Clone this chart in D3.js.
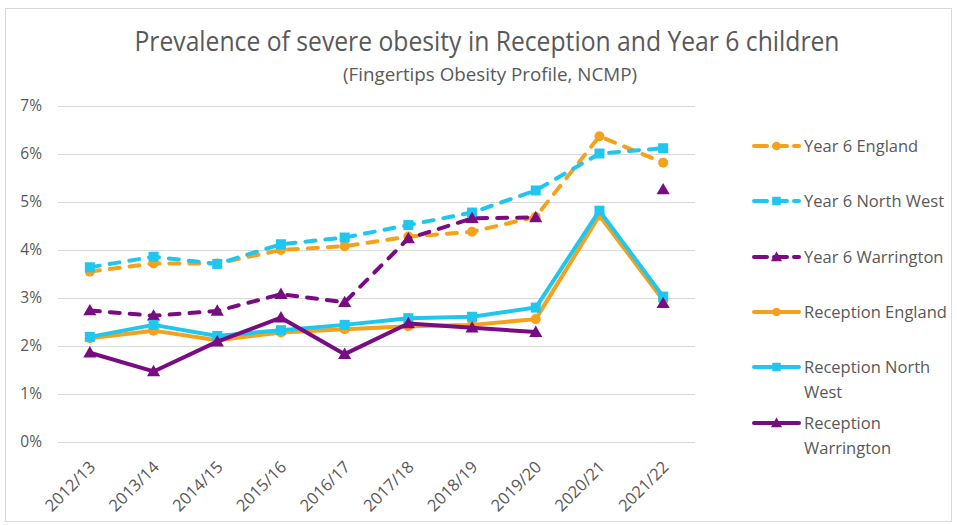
<!DOCTYPE html>
<html><head><meta charset="utf-8">
<script src="https://cdn.jsdelivr.net/npm/d3@7"></script>
<style>body{margin:0;background:#fff;} text{font-family:"Open Sans","Noto Sans",sans-serif;}</style>
</head><body><svg id="c" width="957" height="525"></svg>
<script>
const years = ["2012/13","2013/14","2014/15","2015/16","2016/17","2017/18","2018/19","2019/20","2020/21","2021/22"];
const yTicks = [0,1,2,3,4,5,6,7];
const y6England   = [3.55,3.72,3.72,4.00,4.08,4.28,4.38,4.69,6.37,5.82];
const y6NorthWest = [3.64,3.86,3.71,4.12,4.26,4.52,4.78,5.24,6.01,6.12];
const y6Warrington= [2.74,2.63,2.73,3.08,2.91,4.24,4.66,4.68,null,5.26];
const recEngland  = [2.16,2.32,2.12,2.28,2.35,2.41,2.44,2.56,4.72,2.95];
const recNorthWest= [2.19,2.44,2.21,2.33,2.44,2.58,2.61,2.80,4.82,3.03];
const recWarrington=[1.86,1.47,2.09,2.59,1.83,2.47,2.38,2.29,null,2.89];
const seriesNames = ["Year 6 England","Year 6 North West","Year 6 Warrington","Reception England","Reception North West","Reception Warrington"];

const ORANGE="#F5A11C", CYAN="#1FC7EF", PURPLE="#7A0C83";
const series = [
  {name:seriesNames[0], vals:y6England, color:ORANGE, dash:true, marker:"circle"},
  {name:seriesNames[1], vals:y6NorthWest, color:CYAN, dash:true, marker:"square"},
  {name:seriesNames[2], vals:y6Warrington, color:PURPLE, dash:true, marker:"triangle"},
  {name:seriesNames[3], vals:recEngland, color:ORANGE, dash:false, marker:"circle"},
  {name:seriesNames[4], vals:recNorthWest, color:CYAN, dash:false, marker:"square"},
  {name:seriesNames[5], vals:recWarrington, color:PURPLE, dash:false, marker:"triangle"}
];

const svg = d3.select("#c");
svg.append("rect").attr("x",5.5).attr("y",8.5).attr("width",946).attr("height",513)
  .attr("fill","#fff").attr("stroke","#d9d9d9");

const x = d3.scalePoint().domain(years).range([58,695]).padding(0.5);
const y = d3.scaleLinear().domain([0,7]).range([442,106]);

// title
svg.append("text").attr("x",487).attr("y",51).attr("text-anchor","middle")
  .attr("font-size",27).attr("fill","#595959").attr("textLength",705).attr("lengthAdjust","spacingAndGlyphs")
  .text("Prevalence of severe obesity in Reception and Year 6 children");
svg.append("text").attr("x",490).attr("y",81).attr("text-anchor","middle")
  .attr("font-size",18).attr("fill","#595959").attr("textLength",294).attr("lengthAdjust","spacingAndGlyphs")
  .text("(Fingertips Obesity Profile, NCMP)");

// grid
const yAxis = d3.axisLeft(y).tickValues(yTicks).tickSize(-(695-58)).tickFormat(d=>d+"%");
const gy = svg.append("g").attr("transform","translate(58,0)").call(yAxis);
gy.select(".domain").remove();
gy.selectAll(".tick line").attr("stroke","#d9d9d9").attr("stroke-width",1);
gy.selectAll(".tick text").attr("x",-16).attr("font-size",15.5).attr("fill","#595959");

// x axis labels
const xAxis = d3.axisBottom(x).tickSize(0);
const gx = svg.append("g").attr("transform","translate(0,442)").call(xAxis);
gx.select(".domain").remove();
gx.selectAll(".tick text").attr("font-size",16.5).attr("fill","#595959")
  .attr("text-anchor","end").attr("y",0).attr("dy","0.35em")
  .attr("transform","translate(2,22) rotate(-45)");

function drawMarker(g, type, cx, cy, color, scale){
  scale = scale||1;
  if(type==="circle") g.append("circle").attr("cx",cx).attr("cy",cy).attr("r",5*scale).attr("fill",color);
  else if(type==="square") g.append("rect").attr("x",cx-5*scale).attr("y",cy-5*scale).attr("width",10*scale).attr("height",10*scale).attr("fill",color);
  else g.append("path").attr("d",d3.symbol().type(d3.symbolTriangle).size(75*scale*scale)()).attr("transform",`translate(${cx},${cy+1})`).attr("fill",color);
}

const line = d3.line().defined(d=>d!=null).x((d,i)=>x(years[i])).y(d=>y(d));
series.forEach(s=>{
  const g = svg.append("g");
  g.append("path").attr("d",line(s.vals)).attr("fill","none").attr("stroke",s.color)
    .attr("stroke-width",4).attr("stroke-linejoin","round").attr("stroke-linecap","round")
    .attr("stroke-dasharray",s.dash?"10,10":null);
  s.vals.forEach((v,i)=>{ if(v!=null) drawMarker(g,s.marker,x(years[i]),y(v),s.color); });
});

// legend
const legRows = [
  {lineY:146, lines:["Year 6 England"]},
  {lineY:201, lines:["Year 6 North West"]},
  {lineY:257, lines:["Year 6 Warrington"]},
  {lineY:312, lines:["Reception England"]},
  {lineY:367, lines:["Reception North","West"]},
  {lineY:423, lines:["Reception","Warrington"]}
];
series.forEach((s,i)=>{
  const r = legRows[i];
  const g = svg.append("g");
  g.append("line").attr("x1",754).attr("x2",799).attr("y1",r.lineY).attr("y2",r.lineY)
    .attr("stroke",s.color).attr("stroke-width",4).attr("stroke-linecap","round")
    .attr("stroke-dasharray",s.dash?"13,7":null);
  drawMarker(g,s.marker,776.5,r.lineY,s.color,0.85);
  r.lines.forEach((t,j)=>{
    g.append("text").attr("x",804).attr("y",r.lineY+j*25.5).attr("dy","0.35em")
      .attr("font-size",16.5).attr("fill","#595959").text(t);
  });
});
</script></body></html>
